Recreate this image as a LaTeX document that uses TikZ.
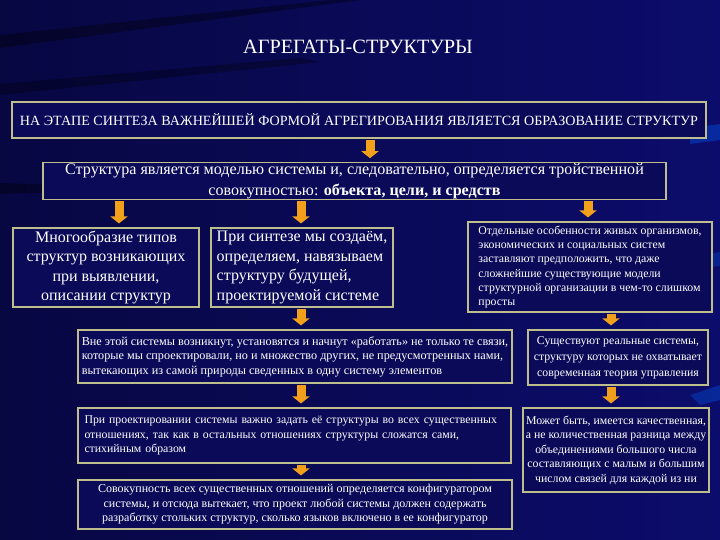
\documentclass[tikz,border=0pt]{standalone}
\usepackage{fontspec}
\setmainfont{Liberation Serif}
\usetikzlibrary{arrows.meta}
\definecolor{bgA}{RGB}{7,7,66}
\definecolor{bgB}{RGB}{12,12,108}
\definecolor{boxfill}{RGB}{10,10,88}
\definecolor{boxline}{RGB}{190,190,140}
\definecolor{arrc}{RGB}{242,160,28}
\tikzset{
  box/.style={draw=boxline, fill=boxfill, line width=1.1pt, inner sep=0pt, text=white},
  bigtxt/.style={font=\fontsize{16}{19.5}\selectfont},
  midtxt/.style={font=\fontsize{16.1}{20.5}\selectfont},
  smalltxt/.style={font=\fontsize{11.8}{14.5}\selectfont},
  downarrow/.style={draw=arrc, line width=9pt, -{Triangle[width=17pt,length=7pt]}, shorten >=4pt, shorten <=1pt},
}
\begin{document}
\begin{tikzpicture}[x=1pt,y=-1pt]
\useasboundingbox (0,0) rectangle (720,540);
% background
\shade[left color=bgA, right color=bgB] (0,0) rectangle (720,540);
\fill[black, opacity=0.35] (0,35) -- (330,0) -- (360,0) -- (0,48) -- cycle;
\fill[black, opacity=0.3] (0,84) -- (300,58) -- (320,62) -- (0,95) -- cycle;
\fill[black, opacity=0.35] (0,183) -- (60,185) -- (60,192) -- (0,194) -- cycle;
\fill[blue!60!cyan, opacity=0.35] (690,128) -- (720,124) -- (720,140) -- (690,144) -- cycle;
\fill[blue!60!cyan, opacity=0.25] (680,258) -- (720,252) -- (720,266) -- (680,270) -- cycle;
\fill[blue!60!cyan, opacity=0.3] (690,395) -- (720,385) -- (720,400) -- (700,405) -- cycle;
% title
\node[text=white, font=\fontsize{20.3}{24}\selectfont] (title) at (358,47) {АГРЕГАТЫ-СТРУКТУРЫ};
% boxes
\node[box, minimum width=694, minimum height=36, font=\fontsize{14.1}{16}\selectfont] (b1) at (359,120)
  {НА ЭТАПЕ СИНТЕЗА ВАЖНЕЙШЕЙ ФОРМОЙ АГРЕГИРОВАНИЯ ЯВЛЯЕТСЯ ОБРАЗОВАНИЕ СТРУКТУР};
\node[box, midtxt, minimum width=623, minimum height=36.5, align=center] (b2) at (354.5,181)
  {Структура является моделью системы и, следовательно, определяется тройственной\\
   совокупностью: \textbf{объекта, цели, и средств}};
\node[box, bigtxt, minimum width=186, minimum height=79, align=center] (b3) at (106,267.5)
  {Многообразие типов\\структур возникающих\\при выявлении,\\описании структур};
\node[box, bigtxt, minimum width=182, minimum height=79, align=left] (b4) at (302,267.5)
  {При синтезе мы создаём,\\определяем, навязываем\\структуру будущей,\\проектируемой системе};
\node[box, font=\fontsize{11.8}{14.3}\selectfont, minimum width=244, minimum height=90, align=left] (b5) at (590,267)
  {Отдельные особенности живых организмов,\\экономических и социальных систем\\заставляют предположить, что даже\\сложнейшие существующие модели\\структурной организации в чем-то слишком\\просты};
\node[box, font=\fontsize{12.2}{14.5}\selectfont, minimum width=434, minimum height=53, align=left] (b6) at (295,356.5)
  {Вне этой системы возникнут, установятся и начнут «работать» не только те связи,\\которые мы спроектировали, но и множество других, не предусмотренных нами,\\вытекающих из самой природы сведенных в одну систему элементов};
\node[box, font=\fontsize{11.8}{16}\selectfont, minimum width=180, minimum height=55, align=center] (b7) at (618,357.5)
  {Существуют реальные системы,\\структуру которых не охватывает\\современная теория управления};
\node[box, smalltxt, minimum width=433, minimum height=55, text width=420pt, align=left] (b8) at (294.5,435.5)
  {При проектировании системы важно задать её структуры во всех существенных\\отношениях, так как в остальных отношениях структуры сложатся сами,\\стихийным образом};
\node[box, smalltxt, minimum width=186, minimum height=84, align=center] (b9) at (616,450)
  {Может быть, имеется качественная,\\а не количественная разница между\\объединениями большого числа\\составляющих с малым и большим\\числом связей для каждой из ни};
\node[box, font=\fontsize{12}{14.5}\selectfont, minimum width=434, minimum height=49, align=center] (b10) at (295,504.5)
  {Совокупность всех существенных отношений определяется конфигуратором\\системы, и отсюда вытекает, что проект любой системы должен содержать\\разработку стольких структур, сколько языков включено в ее конфигуратор};
% arrow columns
\coordinate (xA) at (370,0);
\coordinate (xB) at (119,0);
\coordinate (xC) at (301,0);
\coordinate (xD) at (588,0);
\coordinate (xE) at (611,0);
\draw[downarrow] (b1.south -| xA) -- (b2.north -| xA);
\draw[downarrow] (b2.south -| xB) -- (b3.north -| xB);
\draw[downarrow] (b2.south -| xC) -- (b4.north -| xC);
\draw[downarrow] (b2.south -| xD) -- (b5.north -| xD);
\draw[downarrow] (b4.south -| xC) -- (b6.north -| xC);
\draw[downarrow] (b5.south -| xE) -- (b7.north -| xE);
\draw[downarrow] (b6.south -| xC) -- (b8.north -| xC);
\draw[downarrow] (b7.south -| xE) -- (b9.north -| xE);
\draw[downarrow] (b8.south -| xC) -- (b10.north -| xC);
\end{tikzpicture}
\end{document}
